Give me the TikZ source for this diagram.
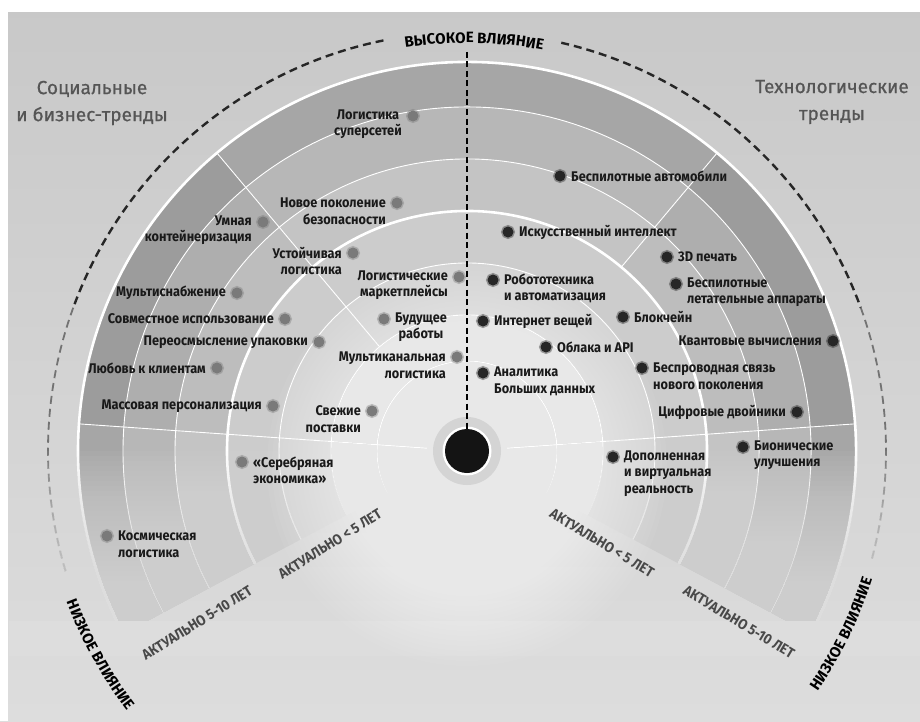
\documentclass[tikz,border=0pt]{standalone}
\usepackage{fontspec}
\setmainfont{Fira Sans}
\newfontfamily\condfont{Fira Sans}[FakeStretch=0.91]
\newfontfamily\titlefont{Fira Sans}[FakeBold=0.7]
\usetikzlibrary{positioning,decorations.text}

\definecolor{bgtop}{RGB}{200,200,200}
\definecolor{bgbot}{RGB}{221,221,221}
\definecolor{bandA}{RGB}{166,166,166}
\definecolor{bandB}{RGB}{183,183,183}
\definecolor{bandC}{RGB}{196,196,196}
\definecolor{bandD}{RGB}{204,204,204}
\definecolor{bandE}{RGB}{212,212,212}
\definecolor{bandF}{RGB}{220,220,220}
\definecolor{bandG}{RGB}{228,228,228}
\definecolor{sideA}{RGB}{156,156,156}
\definecolor{sideB}{RGB}{174,174,174}
\definecolor{sideC}{RGB}{189,189,189}
\definecolor{sgray}{RGB}{122,122,122}
\definecolor{tdark}{RGB}{38,38,38}
\definecolor{titlegray}{RGB}{85,85,85}
\definecolor{axisgray}{RGB}{72,72,72}
\definecolor{hubring}{RGB}{212,212,212}

\newcommand\hifont{\bfseries\fontsize{15}{15}\selectfont}

\tikzstyle{lbl} = [font=\condfont\bfseries\fontsize{14}{16.5}\selectfont, text=black!90, inner sep=0pt]
\tikzstyle{two} = [yshift=-8.25pt]
\tikzstyle{three} = [yshift=-16.5pt]
\tikzstyle{sdot} = [circle, fill=sgray, draw=sgray, draw opacity=.4, line width=3pt, minimum size=11pt, inner sep=0pt]
\tikzstyle{tdot} = [sdot, fill=tdark, draw=tdark]
\tikzstyle{ringline} = [white, line width=0.9pt]
\tikzstyle{bigring} = [white, line width=2.6pt]
\tikzstyle{dasharc} = [black!85, line width=2.4pt, dash pattern=on 8pt off 5pt]
\tikzstyle{vline} = [black, line width=2pt, dash pattern=on 6pt off 3.5pt]
\tikzstyle{hub} = [circle, fill=black!92, minimum size=44pt, inner sep=0pt]
\tikzstyle{title} = [font=\titlefont\fontsize{19}{27}\selectfont, text=titlegray, align=center]
\tikzstyle{axis} = [font=\condfont\bfseries\fontsize{14.5}{16}\selectfont, text=axisgray]

\begin{document}
\begin{tikzpicture}[x=1pt,y=1pt]
  \useasboundingbox (-467,-270) rectangle (453,451);
  \fill[bgbot] (-467,-270) rectangle (453,451);
  \shade[top color=bgtop, bottom color=bgbot] (-467,-270) rectangle (453,451);
  % white page margin, top and left
  \fill[white] (-467,439) rectangle (453,451);
  \fill[white] (-467,-270) rectangle (-459,451);

  % rings, light towards the middle
  \foreach \rin/\rout/\c in {344/389/bandA, 292/344/bandB, 240/292/bandC, 188/240/bandD, 136/188/bandE, 90/136/bandF}
    \fill[\c] (-28:\rout) arc (-28:208:\rout) -- (208:\rin) arc (208:-28:\rin) -- cycle;
  \fill[bandG] (0,0) -- (-28:90) arc (-28:208:90) -- cycle;
  % darker side sectors
  \foreach \a/\b in {4/50, 130/176}
    \foreach \rin/\rout/\c in {344/389/sideA, 292/344/sideB, 240/292/sideC}
      \fill[\c] (\a:\rout) arc (\a:\b:\rout) -- (\b:\rin) arc (\b:\a:\rin) -- cycle;

  \foreach \r in {90,136,188,292,344}
    \draw[ringline] (-28:\r) arc (-28:208:\r);
  \foreach \r in {240,389}
    \draw[bigring] (-28:\r) arc (-28:208:\r);
  \draw[ringline] (4:40) -- (4:389) (176:40) -- (176:389)
    (50:240) -- (50:389) (130:136) -- (130:389);

  % impact arcs
  \draw[dasharc] (101.5:419) arc (101.5:160:419);
  \draw[dasharc, black!55, line width=1.8pt] (160:419) arc (160:197:419);
  \draw[dasharc] (77:419) arc (77:20:419);
  \draw[dasharc, black!55, line width=1.8pt] (20:419) arc (20:-15:419);

  % lower rings die out towards the bottom
  \foreach \y in {0,-5,...,-170}
    \fill[bgbot, opacity=.06] (-458,\y) rectangle (453,-205);
  \fill[bgbot] (-458,-170) rectangle (453,-205);
  % soft light round the hub
  \foreach \r in {40,45,...,200}
    \fill[white, opacity=.045] (0,-15) circle (\r);

  % hub
  \fill[hubring] (0,0) circle (34);
  \fill[white] (0,0) circle (24.5);
  \node[hub] (hub) at (0,0) {};
  \coordinate (top) at (0,399);
  \draw[vline] (top) -- (hub);

  % headings
  \node[title] (social) at (-375,348) {Социальные\\и бизнес-тренды};
  \node[title] (tech) at (365,349) {Технологические\\тренды};
  \path[decorate, decoration={text along path, text align=center, text={|\hifont|ВЫСОКОЕ ВЛИЯНИЕ}}]
    (101:408) arc (101:77:408);
  \path[decorate, decoration={text along path, text align=center, text={|\hifont|НИЗКОЕ ВЛИЯНИЕ}}]
    (199:428) arc (199:219:428);
  \path[decorate, decoration={text along path, text align=center, text={|\hifont|НИЗКОЕ ВЛИЯНИЕ}}]
    (-36:425) arc (-36:-16:425);

  \node[axis, rotate=32] (near1) at (-137,-93) {АКТУАЛЬНО < 5 ЛЕТ};
  \node[axis, rotate=32] (far1) at (-270,-172) {АКТУАЛЬНО 5-10 ЛЕТ};
  \node[axis, rotate=-31] (near2) at (135,-92) {АКТУАЛЬНО < 5 ЛЕТ};
  \node[axis, rotate=-31] (far2) at (272,-171) {АКТУАЛЬНО 5-10 ЛЕТ};

  % social and business trends
  \node[sdot] (sn) at (-54,335) {};
  \node[lbl, two, left=4pt of sn, align=center] (snl) {Логистика\\суперсетей};
  \node[sdot] (sec) at (-70,248) {};
  \node[lbl, two, left=4pt of sec, align=right] (secl) {Новое поколение\\безопасности};
  \node[sdot] (cont) at (-204,229) {};
  \node[lbl, two, left=4pt of cont, align=right] (contl) {Умная\\контейнеризация};
  \node[sdot] (sust) at (-114,198) {};
  \node[lbl, two, left=4pt of sust, align=right] (sustl) {Устойчивая\\логистика};
  \node[sdot] (mkt) at (-8,174) {};
  \node[lbl, two, left=4pt of mkt, align=right] (mktl) {Логистические\\маркетплейсы};
  \node[sdot] (msup) at (-230,158) {};
  \node[lbl, left=4pt of msup] (msupl) {Мультиснабжение};
  \node[sdot] (share) at (-182,132) {};
  \node[lbl, left=4pt of share] (sharel) {Совместное использование};
  \node[sdot] (fut) at (-83,132) {};
  \node[lbl, two, right=4pt of fut, align=center] (futl) {Будущее\\работы};
  \node[sdot] (pack) at (-148,109) {};
  \node[lbl, left=4pt of pack] (packl) {Переосмысление упаковки};
  \node[sdot] (omni) at (-10,94) {};
  \node[lbl, two, left=4pt of omni, align=right] (omnil) {Мультиканальная\\логистика};
  \node[sdot] (love) at (-250,83) {};
  \node[lbl, left=4pt of love] (lovel) {Любовь к клиентам};
  \node[sdot] (mass) at (-194,45) {};
  \node[lbl, left=4pt of mass] (massl) {Массовая персонализация};
  \node[sdot] (fresh) at (-95,40) {};
  \node[lbl, two, left=4pt of fresh, align=right] (freshl) {Свежие\\поставки};
  \node[sdot] (silver) at (-225,-11) {};
  \node[lbl, two, right=4pt of silver, align=left] (silverl) {«Серебряная\\экономика»};
  \node[sdot] (space) at (-360,-85) {};
  \node[lbl, two, right=4pt of space, align=left] (spacel) {Космическая\\логистика};

  % technology trends
  \node[tdot] (cars) at (93,275) {};
  \node[lbl, right=4pt of cars] (carsl) {Беспилотные автомобили};
  \node[tdot] (ai) at (41,219) {};
  \node[lbl, right=4pt of ai] (ail) {Искусственный интеллект};
  \node[tdot] (robo) at (26,171) {};
  \node[lbl, two, right=4pt of robo, align=left] (robol) {Робототехника\\и автоматизация};
  \node[tdot] (iot) at (16,130) {};
  \node[lbl, right=4pt of iot] (iotl) {Интернет вещей};
  \node[tdot] (cloud) at (79,104) {};
  \node[lbl, right=4pt of cloud] (cloudl) {Облака и API};
  \node[tdot] (data) at (16,78) {};
  \node[lbl, two, right=4pt of data, align=left] (datal) {Аналитика\\Больших данных};
  \node[tdot] (print) at (200,194) {};
  \node[lbl, right=4pt of print] (printl) {3D печать};
  \node[tdot] (drone) at (209,167) {};
  \node[lbl, two, right=4pt of drone, align=left] (dronel) {Беспилотные\\летательные аппараты};
  \node[tdot] (chain) at (156,134) {};
  \node[lbl, right=4pt of chain] (chainl) {Блокчейн};
  \node[tdot] (quant) at (366,110) {};
  \node[lbl, left=4pt of quant] (quantl) {Квантовые вычисления};
  \node[tdot] (wifi) at (175,83) {};
  \node[lbl, two, right=4pt of wifi, align=left] (wifil) {Беспроводная связь\\нового поколения};
  \node[tdot] (twin) at (330,39) {};
  \node[lbl, left=4pt of twin] (twinl) {Цифровые двойники};
  \node[tdot] (bio) at (276,4) {};
  \node[lbl, two, right=4pt of bio, align=left] (biol) {Бионические\\улучшения};
  \node[tdot] (arvr) at (146,-6) {};
  \node[lbl, three, right=4pt of arvr, align=left] (arvrl) {Дополненная\\и виртуальная\\реальность};
\end{tikzpicture}
\end{document}
